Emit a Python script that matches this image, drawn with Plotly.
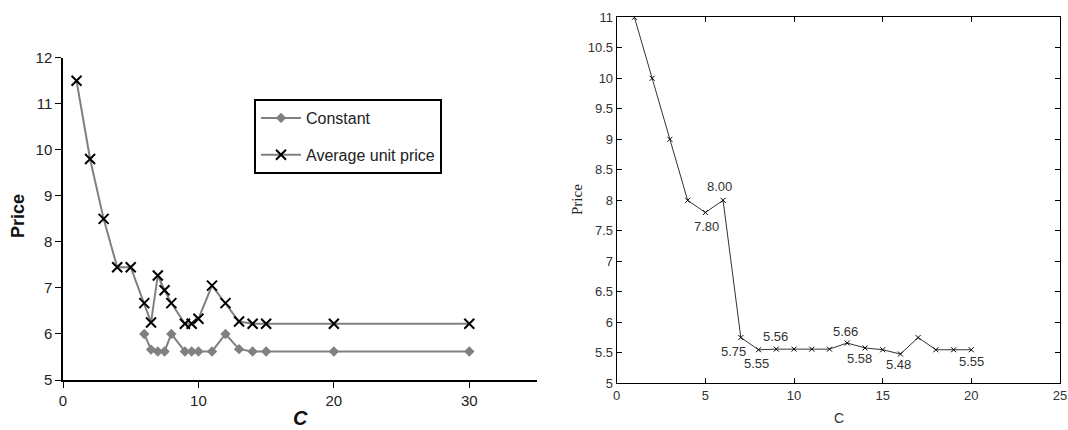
import plotly.graph_objects as go

# Left chart data
c_avg = [1, 2, 3, 4, 5, 6, 6.5, 7, 7.5, 8, 9, 9.5, 10, 11, 12, 13, 14, 15, 20, 30]
avg_unit_price = [11.5, 9.8, 8.5, 7.45, 7.45, 6.67, 6.25, 7.27, 6.95, 6.67, 6.22, 6.22, 6.33,
                  7.05, 6.67, 6.27, 6.22, 6.22, 6.22, 6.22]
c_const = [6, 6.5, 7, 7.5, 8, 9, 9.5, 10, 11, 12, 13, 14, 15, 20, 30]
constant = [6.0, 5.66, 5.62, 5.62, 6.0, 5.62, 5.62, 5.62, 5.62, 6.0, 5.67, 5.62, 5.62, 5.62, 5.62]

# Right chart data
c_right = list(range(1, 21))
price_right = [11, 10, 9, 8, 7.8, 8.0, 5.75, 5.55, 5.56, 5.56, 5.56, 5.56, 5.66, 5.58, 5.55,
               5.48, 5.75, 5.55, 5.55, 5.55]
label_idx = [5, 4, 6, 7, 8, 12, 13, 15, 19]
label_text = ["8.00", "7.80", "5.75", "5.55", "5.56", "5.66", "5.58", "5.48", "5.55"]
label_shift = [(-4, 14), (1, -14), (-7, -14), (-2, -14), (-1, 13), (-2, 12), (-5, -11), (-2, -10), (0, -12)]

W, H = 1068, 430
def py(p):
    return 1 - p / H
def px(p):
    return p / W

fig = go.Figure()

fig.add_trace(go.Scatter(
    x=c_const, y=constant, mode="lines+markers", name="Constant",
    line=dict(color="#808080", width=2),
    marker=dict(symbol="diamond", size=8, color="#808080"),
    xaxis="x", yaxis="y", legendgroup="a"))
fig.add_trace(go.Scatter(
    x=c_avg, y=avg_unit_price, mode="lines+markers", name="Average unit price",
    line=dict(color="#808080", width=2),
    marker=dict(symbol="x-thin", size=10, color="black", line=dict(color="black", width=2)),
    xaxis="x", yaxis="y", legendgroup="b"))

fig.add_trace(go.Scatter(
    x=c_right, y=price_right, mode="lines+markers", showlegend=False,
    line=dict(color="#333333", width=1),
    marker=dict(symbol="x-thin", size=5, color="black", line=dict(color="black", width=1)),
    xaxis="x2", yaxis="y2"))

tickfont_l = dict(family="Liberation Sans, Arial", size=15, color="#222")
tickfont_r = dict(family="Liberation Sans, Arial", size=13, color="#333")

fig.update_layout(
    width=W, height=H,
    margin=dict(l=0, r=0, t=0, b=0),
    paper_bgcolor="white", plot_bgcolor="white",
    showlegend=True,
    legend=dict(x=px(254), y=py(99), xanchor="left", yanchor="top",
                bordercolor="black", borderwidth=2, bgcolor="white",
                font=dict(family="Liberation Sans, Arial", size=16, color="#222"),
                traceorder="grouped", tracegroupgap=13, itemwidth=40),
    xaxis=dict(domain=[px(63), px(537)], range=[0, 35], tickvals=[0, 10, 20, 30],
               showgrid=False, zeroline=False, showline=True, linecolor="black", linewidth=1.5,
               ticks="outside", ticklen=6, tickcolor="black", tickfont=tickfont_l, anchor="y",
               automargin=False),
    yaxis=dict(domain=[py(380), py(57.7)], range=[5, 12], dtick=1,
               showgrid=False, zeroline=False, showline=True, linecolor="black", linewidth=1.5,
               ticks="outside", ticklen=6, tickcolor="black", tickfont=tickfont_l, anchor="x",
               automargin=False),
    xaxis2=dict(domain=[px(616.7), px(1060)], range=[0, 25], dtick=5,
                showgrid=False, zeroline=False, showline=True, mirror="ticks", linecolor="black",
                linewidth=1, ticks="inside", ticklen=5, tickcolor="black", tickfont=tickfont_r,
                anchor="y2", automargin=False),
    yaxis2=dict(domain=[py(383.3), py(17.3)], range=[5, 11], dtick=0.5,
                showgrid=False, zeroline=False, showline=True, mirror="ticks", linecolor="black",
                linewidth=1, ticks="inside", ticklen=5, tickcolor="black", tickfont=tickfont_r,
                anchor="x2", automargin=False),
)

ctr = dict(xref="paper", yref="paper", xanchor="center", yanchor="middle", showarrow=False)
annots = [
    dict(text="<b>Price</b>", x=px(18), y=py(216), textangle=-90,
         font=dict(family="Liberation Sans, Arial", size=18, color="#111"), **ctr),
    dict(text="<b><i>C</i></b>", x=px(300), y=py(418),
         font=dict(family="Liberation Sans, Arial", size=20, color="#111"), **ctr),
    dict(text="Price", x=px(577), y=py(200), textangle=-90,
         font=dict(family="Liberation Serif, Times New Roman", size=15, color="#222"), **ctr),
    dict(text="C", x=px(839), y=py(418),
         font=dict(family="Liberation Sans, Arial", size=14, color="#333"), **ctr),
]
for i, t, (dx, dy) in zip(label_idx, label_text, label_shift):
    annots.append(dict(text=t, x=c_right[i], y=price_right[i], xref="x2", yref="y2",
                       xshift=dx, yshift=dy, showarrow=False,
                       font=dict(family="Liberation Sans, Arial", size=13, color="#333")))
fig.update_layout(annotations=annots)

fig.write_html("out.html")
